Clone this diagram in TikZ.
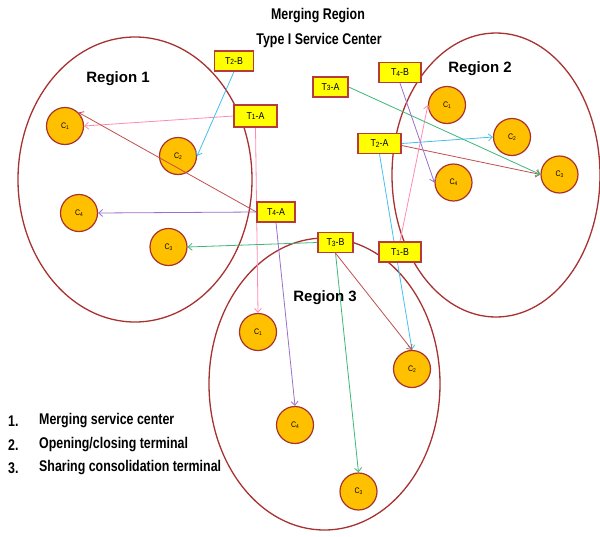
\documentclass[tikz,border=0pt]{standalone}
\usepackage{fontspec}
\setmainfont{Liberation Sans}
\newfontfamily\narrowfont{Liberation Sans}[FakeStretch=0.8]
\newfontfamily\termfont{Liberation Sans}[FakeStretch=0.88]
\usetikzlibrary{arrows.meta}
\definecolor{regred}{HTML}{A83232}
\definecolor{custfill}{HTML}{FFC000}
\definecolor{custedge}{HTML}{A8322E}
\definecolor{termedge}{HTML}{B83A3A}
\definecolor{termfill}{HTML}{FFFF00}
\definecolor{lpink}{HTML}{FF8CB0}
\definecolor{lblue}{HTML}{45C0F0}
\definecolor{lred}{HTML}{C0504D}
\definecolor{lpurple}{HTML}{9A70CC}
\definecolor{lgreen}{HTML}{3CB878}
\newcommand\tlab[2]{T{\fontsize{7.5}{8}\selectfont\raisebox{-0.6pt}{#1}}-#2}
\newcommand\clab[1]{C{\fontsize{5.5}{6}\selectfont\raisebox{-1pt}{#1}}}
\pgfdeclarelayer{shapes}
\pgfdeclarelayer{links}
\pgfsetlayers{shapes,links,main}
\begin{document}
\begin{tikzpicture}[x=1pt,y=-1pt,
  region/.style={draw=regred, line width=1.3pt},
  cust/.style={circle, draw=custedge, fill=custfill, line width=1.2pt, minimum size=37pt, inner sep=0pt, font=\termfont\fontsize{8}{9}\selectfont},
  term/.style={rectangle, draw=termedge, fill=termfill, line width=1.3pt, minimum height=20pt, inner sep=1pt, font=\termfont\fontsize{10}{12}\selectfont},
  link/.style={line width=0.8pt, -{Straight Barb[length=4pt,width=7pt]}},
  titletext/.style={font=\narrowfont\bfseries\fontsize{15.5}{18}\selectfont},
  regionlabel/.style={font=\bfseries\fontsize{15}{18}\selectfont},
  legendtext/.style={anchor=west, font=\narrowfont\bfseries\fontsize{15.5}{18}\selectfont, inner sep=0pt}
]
\useasboundingbox (0,0) rectangle (600,536);

\begin{pgfonlayer}{shapes}
\fill[white] (0,0) rectangle (600,536);
% regions
\draw[region] (135,179.5) ellipse [x radius=117pt, y radius=142.5pt];
\draw[region] (496,175) ellipse [x radius=104pt, y radius=142pt];
\draw[region] (324.5,384) ellipse [x radius=115.5pt, y radius=146pt];

% customers region 1
\node[cust] (r1c1) at (65,126) {\clab{1}};
\node[cust] (r1c2) at (178,156) {\clab{2}};
\node[cust] (r1c4) at (79,213) {\clab{4}};
\node[cust] (r1c3) at (168.5,247) {\clab{3}};
% customers region 2
\node[cust] (r2c1) at (447,105) {\clab{1}};
\node[cust] (r2c2) at (512,137) {\clab{2}};
\node[cust] (r2c4) at (453.5,182.5) {\clab{4}};
\node[cust] (r2c3) at (559.5,174.5) {\clab{3}};
% customers region 3
\node[cust] (r3c1) at (258,332) {\clab{1}};
\node[cust] (r3c4) at (295,425) {\clab{4}};
\node[cust] (r3c2) at (412,369) {\clab{2}};
\node[cust] (r3c3) at (358.5,491.5) {\clab{3}};
\end{pgfonlayer}

% titles and labels
\node[titletext] (title1) at (318,16) {Merging Region};
\node[titletext] (title2) at (319,40) {Type I Service Center};
\node[regionlabel] (reg1) at (118,79) {Region 1};
\node[regionlabel] (reg2) at (480,69) {Region 2};
\node[regionlabel] (reg3) at (325,298) {Region 3};

% legend
\node[legendtext] (n1) at (8,421) {1.};
\node[legendtext] (l1) at (39,421) {Merging service center};
\node[legendtext] (n2) at (8,445) {2.};
\node[legendtext] (l2) at (39,445) {Opening/closing terminal};
\node[legendtext] (n3) at (8,468) {3.};
\node[legendtext] (l3) at (39,468) {Sharing consolidation terminal};

% terminals
\node[term, minimum width=39pt] (t2b) at (234,61) {\tlab{2}{B}};
\node[term, minimum width=43pt, minimum height=22pt] (t1a) at (255.5,116) {\tlab{1}{A}};
\node[term, minimum width=38pt] (t4a) at (276,212) {\tlab{4}{A}};
\node[term, minimum width=35pt] (t3a) at (330.5,87) {\tlab{3}{A}};
\node[term, minimum width=42pt] (t4b) at (400,72.5) {\tlab{4}{B}};
\node[term, minimum width=43pt] (t2a) at (379.5,143.5) {\tlab{2}{A}};
\node[term, minimum width=35pt] (t3b) at (335.5,242.5) {\tlab{3}{B}};
\node[term, minimum width=42pt] (t1b) at (400,252) {\tlab{1}{B}};

% connectors
\begin{pgfonlayer}{links}
% terminal 1
\draw[link, lpink] (t1a.west) -- (r1c1.east);
\draw[link, lpink] (t1a.south) -- (r3c1.north);
\draw[link, lpink] (t1b.north) -- (r2c1.west);
% terminal 2
\draw[link, lblue] (t2b.south) -- (r1c2.east);
\draw[link, lblue] (t2a.east) -- (r2c2.west);
\draw[link, lblue] (t2a.south) -- (r3c2.north);
\draw[link, lred] ([yshift=-2pt]t2a.east) -- (r2c3.west);
% terminal 3
\draw[link, lgreen] (t3a.east) -- (r2c3.west);
\draw[link, lgreen] (t3b.west) -- (r1c3.east);
\draw[link, lgreen] (t3b.south) -- (r3c3.north);
\draw[link, lred] (t3b.south) -- (r3c2.north);
% terminal 4
\draw[link, lred] (t4a.west) -- (r1c1.45);
\draw[link, lpurple] (t4a.west) -- (r1c4.east);
\draw[link, lpurple] (t4a.south) -- (r3c4.north);
\draw[link, lpurple] (t4b.south) -- (r2c4.west);
\end{pgfonlayer}
\end{tikzpicture}
\end{document}
